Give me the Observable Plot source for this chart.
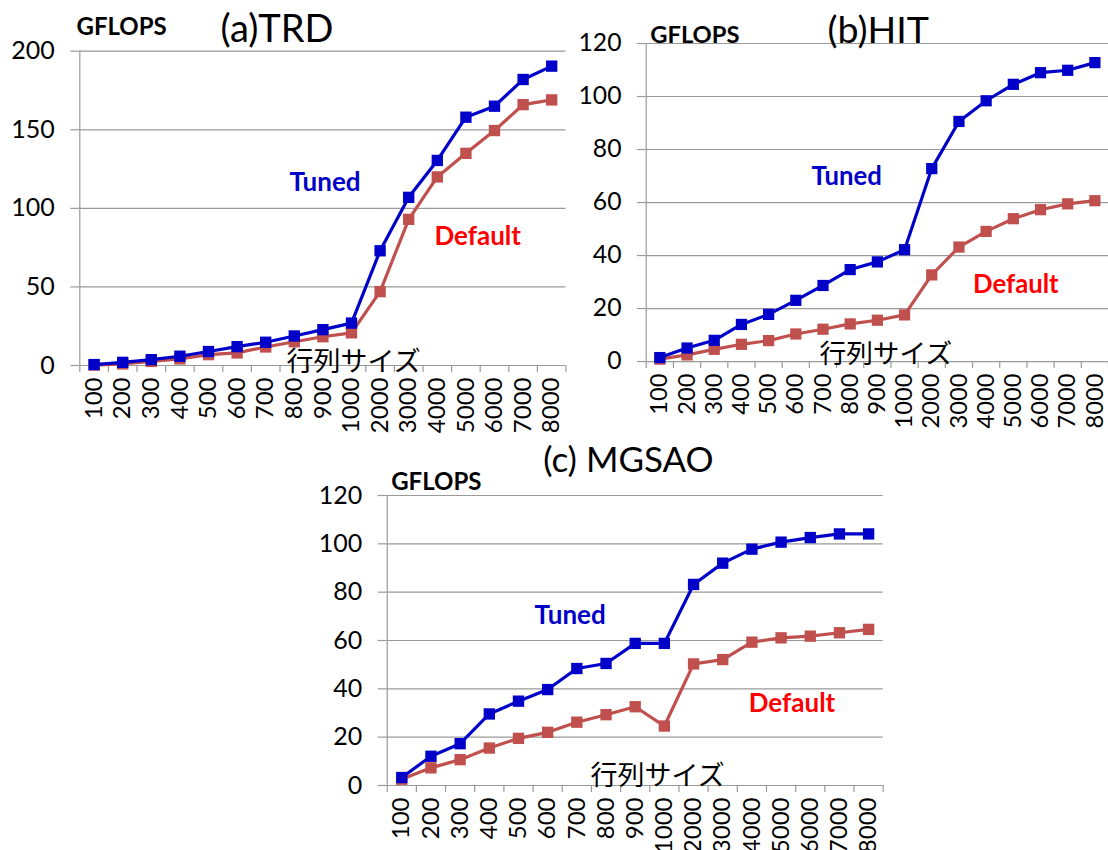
<!DOCTYPE html>
<html>
<head>
<meta charset="utf-8">
<script src="https://cdn.jsdelivr.net/npm/d3@7"></script>
<script src="https://cdn.jsdelivr.net/npm/@observablehq/plot@0.6"></script>
<style>
  html, body { margin: 0; padding: 0; background: #fff; overflow: hidden; }
  #root { position: relative; width: 1108px; height: 850px; overflow: hidden; background: #fff; }
  .panel { position: absolute; }
</style>
</head>
<body>
<div id="root"></div>
<script>
// ---- data ----
const sizes = ["100","200","300","400","500","600","700","800","900","1000","2000","3000","4000","5000","6000","7000","8000"];

const trdTuned   = [0.6, 2.0, 3.7, 5.9, 8.9, 12.0, 14.8, 18.8, 22.8, 27.0, 73, 107, 130.5, 158, 165, 182, 190.5];
const trdDefault = [0.3, 1.0, 2.6, 4.2, 6.9, 8.0, 11.8, 15.1, 18.3, 20.8, 47, 93, 120, 135, 149.5, 166, 169];

const hitTuned   = [1.5, 5.1, 8.0, 14.0, 17.8, 23.1, 28.7, 34.7, 37.6, 42.2, 72.8, 90.6, 98.4, 104.6, 109, 109.9, 112.8];
const hitDefault = [0.9, 2.5, 4.6, 6.5, 7.9, 10.4, 12.2, 14.2, 15.6, 17.6, 32.7, 43.2, 49.1, 53.9, 57.3, 59.5, 60.7];

const mgsaoTuned   = [3.3, 12.1, 17.3, 29.6, 34.9, 39.7, 48.4, 50.5, 58.8, 58.8, 83.2, 92, 97.8, 100.7, 102.6, 104.1, 104.1];
const mgsaoDefault = [2.6, 7.3, 10.7, 15.5, 19.5, 22, 26.2, 29.3, 32.6, 24.6, 50.3, 52.1, 59.3, 61.1, 61.8, 63.2, 64.6];

const trdTicks = [0, 50, 100, 150, 200];
const hitTicks = [0, 20, 40, 60, 80, 100, 120];
const mgsaoTicks = [0, 20, 40, 60, 80, 100, 120];

const seriesNames = ["Tuned", "Default"];
const xAxisTitle = "行列サイズ";
const yAxisTitle = "GFLOPS";

// ---- style ----
const BLUE = "#0000C8";
const RED_LINE = "#C0504D";
const RED_TEXT = "#FF0000";
const GRID = "#9a9a9a";
const LATIN = "Lato, 'Open Sans', sans-serif";
const CJK = "'Noto Sans CJK JP', sans-serif";

function table(arr) { return arr.map((v, i) => ({i, size: sizes[i], v})); }

function panel(cfg) {
  const idx = sizes.map((_, i) => i);
  const bounds = idx.map(i => i - 0.5).concat([sizes.length - 0.5]);
  const yMax = cfg.ticks[cfg.ticks.length - 1];
  const chart = Plot.plot({
    width: cfg.width,
    height: cfg.height,
    marginLeft: cfg.ml,
    marginRight: cfg.mr,
    marginTop: cfg.mt,
    marginBottom: cfg.mb,
    style: {fontFamily: LATIN, fontSize: "24px", background: "transparent", overflow: "visible", color: "black"},
    x: {type: "linear", domain: [bounds[0], bounds[bounds.length - 1]], axis: null},
    y: {domain: [0, yMax], axis: null},
    marks: [
      Plot.gridY(cfg.ticks, {stroke: GRID, strokeOpacity: 1, strokeWidth: 1.2}),
      Plot.ruleX([bounds[0]], {stroke: GRID, strokeWidth: 1.2}),
      Plot.axisY({ticks: cfg.ticks, label: null, tickSize: 9, tickPadding: 16, stroke: GRID, strokeWidth: 1.2, fill: "black", fontSize: 25, fontFamily: LATIN}),
      Plot.axisX({ticks: bounds, label: null, tickSize: 7, tickFormat: () => "", stroke: GRID, strokeWidth: 1.2}),
      Plot.axisX({ticks: idx, label: null, tickSize: 0, tickPadding: cfg.xPad, tickRotate: -90, tickFormat: i => sizes[i], fill: "black", fontSize: 24, fontFamily: LATIN}),
      Plot.line(table(cfg.def), {x: "i", y: "v", stroke: RED_LINE, strokeWidth: 3.2}),
      Plot.dot(table(cfg.def), {x: "i", y: "v", symbol: "square", r: 6.4, fill: RED_LINE, stroke: null}),
      Plot.line(table(cfg.tuned), {x: "i", y: "v", stroke: BLUE, strokeWidth: 3.2}),
      Plot.dot(table(cfg.tuned), {x: "i", y: "v", symbol: "square", r: 6.4, fill: BLUE, stroke: null}),
      // annotations
      Plot.text([seriesNames[0]], {x: cfg.tunedPos[0], y: cfg.tunedPos[1], text: d => d, textAnchor: "start", lineAnchor: "bottom", fill: BLUE, fontWeight: "bold", fontSize: 26, fontFamily: LATIN}),
      Plot.text([seriesNames[1]], {x: cfg.defPos[0], y: cfg.defPos[1], text: d => d, textAnchor: "start", lineAnchor: "bottom", fill: RED_TEXT, fontWeight: "bold", fontSize: 26, fontFamily: LATIN}),
      Plot.text([xAxisTitle], {x: cfg.xtPos[0], y: cfg.xtPos[1], text: d => d, textAnchor: "start", lineAnchor: "bottom", fill: "black", fontSize: 27, fontFamily: CJK, clip: false}),
      Plot.text([yAxisTitle], {frameAnchor: "top-left", dx: cfg.gf[0], dy: cfg.gf[1], text: d => d, textAnchor: "start", lineAnchor: "bottom", fill: "black", fontWeight: "bold", fontSize: 24, fontFamily: LATIN}),
      Plot.text([cfg.title], {frameAnchor: "top-left", dx: cfg.tt[0], dy: cfg.tt[1], text: d => d, textAnchor: "start", lineAnchor: "bottom", fill: "black", fontSize: cfg.tfs, fontFamily: LATIN})
    ]
  });
  const wrap = document.createElement("div");
  wrap.className = "panel";
  wrap.style.left = cfg.left + "px";
  wrap.style.top = cfg.top + "px";
  wrap.appendChild(chart);
  document.getElementById("root").appendChild(wrap);
}

panel({
  left: 0, top: 0, width: 566, height: 440, ml: 79.3, mr: 0.5, mt: 50.7, mb: 75, xPad: 12,
  ticks: trdTicks, tuned: trdTuned, def: trdDefault, title: "(a)TRD", tfs: 38,
  tunedPos: [6.83, 110.9], defPos: [11.9, 76.4], xtPos: [6.73, -3.8],
  gf: [-3.3, -16.4], tt: [140.7, -9.7]
});

panel({
  left: 560, top: 0, width: 554, height: 440, ml: 86.7, mr: 0, mt: 43.5, mb: 75, xPad: 12,
  ticks: hitTicks, tuned: hitTuned, def: hitDefault, title: "(b)HIT", tfs: 38,
  tunedPos: [5.58, 66.6], defPos: [11.52, 25.9], xtPos: [5.87, -0.4],
  gf: [4, -0.8], tt: [183.3, -0.5]
});

panel({
  left: 300, top: 440, width: 583, height: 410, ml: 86.7, mr: 0.3, mt: 55, mb: 65, xPad: 12,
  ticks: mgsaoTicks, tuned: mgsaoTuned, def: mgsaoDefault, title: "(c) MGSAO", tfs: 35,
  tunedPos: [4.55, 66.9], defPos: [11.89, 30.6], xtPos: [6.47, 0.2],
  gf: [4, -5.7], tt: [156, -23.3]
});
</script>
</body>
</html>
